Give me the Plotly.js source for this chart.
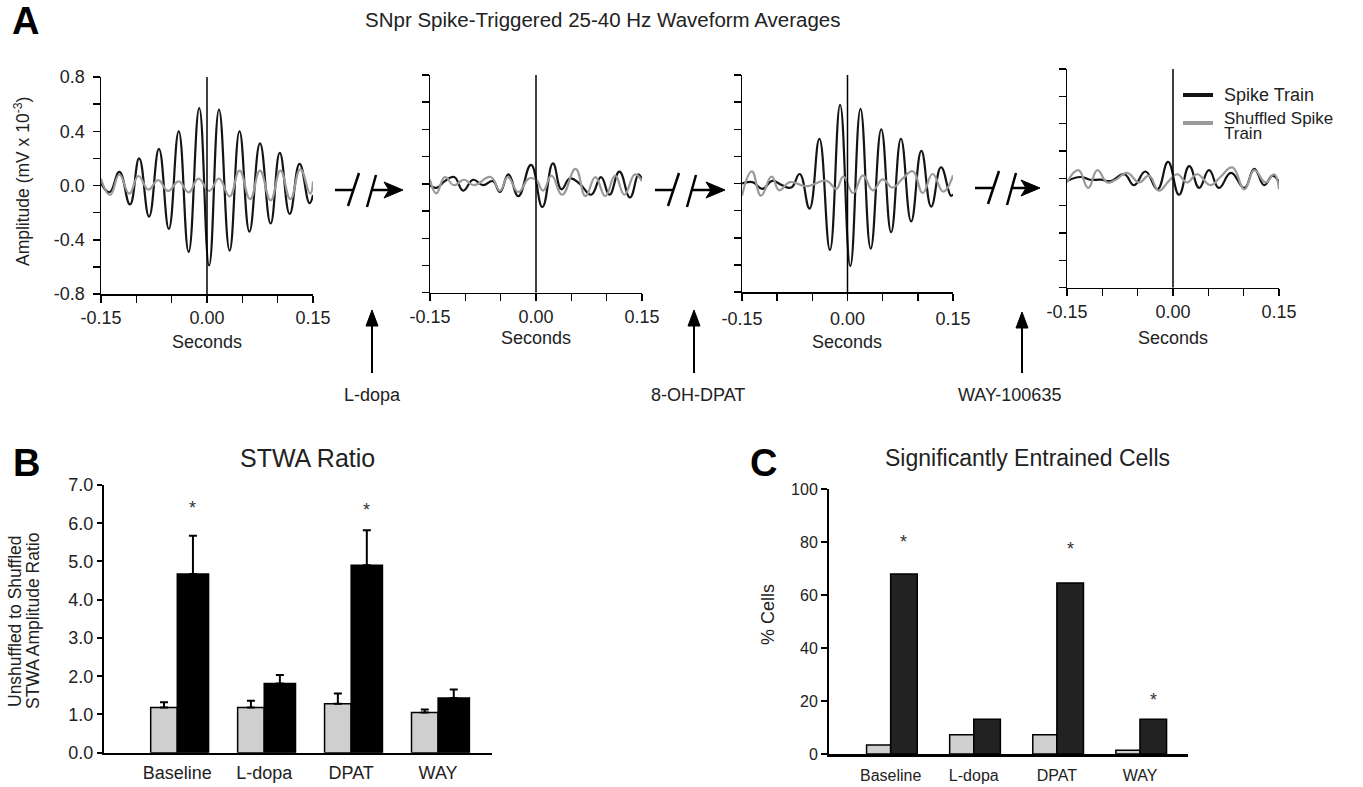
<!DOCTYPE html>
<html>
<head>
<meta charset="utf-8">
<script src="https://cdn.plot.ly/plotly-3.0.1.min.js"></script>
<style>html,body{margin:0;padding:0;background:#fff;}#chart{width:1363px;height:787px;}</style>
</head>
<body>
<div id="chart"></div>
<script>
// ---------- Panel A data: spike-triggered waveform averages (extrema) ----------
const baselineSpikeT = [-0.150,-0.138,-0.124,-0.109,-0.096,-0.082,-0.068,-0.054,-0.040,-0.026,-0.011,0.003,0.017,0.032,0.046,0.060,0.075,0.090,0.103,0.117,0.131,0.145,0.150];
const baselineSpikeV = [0.02,-0.05,0.10,-0.14,0.20,-0.23,0.27,-0.32,0.40,-0.49,0.57,-0.59,0.56,-0.48,0.40,-0.34,0.31,-0.28,0.24,-0.21,0.16,-0.13,-0.07];
const baselineShufT = [-0.150,-0.137,-0.124,-0.110,-0.097,-0.083,-0.069,-0.055,-0.040,-0.026,-0.012,0.003,0.017,0.032,0.046,0.061,0.075,0.090,0.104,0.118,0.132,0.146,0.150];
const baselineShufV = [0.05,-0.07,0.08,-0.06,0.07,-0.03,0.04,-0.04,0.03,-0.05,0.05,-0.04,0.05,-0.08,0.11,-0.10,0.11,-0.11,0.11,-0.10,0.12,-0.06,0.03];

const ldopaSpikeT = [-0.150,-0.141,-0.129,-0.116,-0.103,-0.089,-0.075,-0.061,-0.051,-0.039,-0.025,-0.007,0.009,0.024,0.036,0.048,0.062,0.078,0.092,0.104,0.118,0.133,0.145,0.150];
const ldopaSpikeV = [-0.01,-0.03,0.02,0.05,-0.05,0.03,-0.01,0.02,-0.06,0.07,-0.09,0.14,-0.17,0.15,-0.04,0.04,0.00,-0.08,0.05,-0.08,0.09,-0.10,0.07,0.03];
const ldopaShufT = [-0.150,-0.141,-0.129,-0.116,-0.102,-0.088,-0.064,-0.051,-0.040,-0.025,-0.010,0.000,0.010,0.022,0.037,0.056,0.070,0.084,0.098,0.112,0.125,0.140,0.150];
const ldopaShufV = [0.03,-0.07,0.05,-0.01,0.03,-0.01,0.05,-0.05,0.05,-0.06,0.04,0.03,-0.05,0.06,-0.08,0.11,-0.09,0.05,-0.09,0.06,-0.08,0.07,0.02];

const dpatSpikeT = [-0.150,-0.135,-0.121,-0.107,-0.094,-0.080,-0.068,-0.054,-0.040,-0.025,-0.0105,0.004,0.0185,0.033,0.048,0.062,0.076,0.0905,0.105,0.119,0.133,0.147,0.150];
const dpatSpikeV = [0.00,0.01,-0.04,0.02,-0.01,-0.03,0.07,-0.185,0.33,-0.49,0.58,-0.61,0.55,-0.48,0.40,-0.36,0.33,-0.28,0.24,-0.17,0.12,-0.09,-0.08];
const dpatShufT = [-0.150,-0.136,-0.123,-0.108,-0.097,-0.082,-0.059,-0.030,-0.016,-0.006,0.008,0.022,0.036,0.050,0.064,0.079,0.093,0.107,0.121,0.136,0.150];
const dpatShufV = [-0.09,0.09,-0.09,0.05,-0.05,0.01,-0.02,0.02,-0.04,0.05,-0.07,0.06,-0.05,0.03,-0.03,0.04,0.09,-0.07,0.07,-0.06,0.06];

const waySpikeT = [-0.150,-0.131,-0.117,-0.102,-0.088,-0.069,-0.055,-0.039,-0.022,-0.007,0.0085,0.023,0.037,0.051,0.065,0.082,0.101,0.115,0.129,0.141,0.150];
const waySpikeV = [-0.02,0.01,-0.01,-0.01,-0.02,0.03,-0.05,0.05,-0.08,0.12,-0.12,0.09,-0.07,0.06,-0.07,0.04,-0.07,0.07,-0.05,0.02,-0.03];
const wayShufT = [-0.150,-0.134,-0.120,-0.107,-0.093,-0.081,-0.065,-0.048,-0.034,-0.020,-0.006,0.006,0.020,0.034,0.053,0.067,0.084,0.101,0.115,0.131,0.143,0.150];
const wayShufV = [-0.03,0.06,-0.07,0.06,-0.03,-0.01,0.04,-0.03,0.02,-0.09,-0.02,0.03,-0.03,0.03,-0.05,0.01,0.08,-0.08,0.06,-0.03,0.03,-0.08];

const secTickVals = [-0.15,-0.10,-0.05,0,0.05,0.10,0.15];
const secTickText = ['-0.15','','','0.00','','','0.15'];
const ampTickVals = [-0.8,-0.6,-0.4,-0.2,0,0.2,0.4,0.6,0.8];
const ampTickText = ['-0.8','','-0.4','','0.0','','0.4','','0.8'];
const drugLabels = ['L-dopa','8-OH-DPAT','WAY-100635'];
const legendLabels = ['Spike Train', 'Shuffled Spike', 'Train'];

// ---------- Panel B data: STWA ratio ----------
const conditions = ['Baseline','L-dopa','DPAT','WAY'];
const stwaShuffled = [1.18, 1.18, 1.28, 1.05];
const stwaShuffledErr = [0.14, 0.18, 0.27, 0.08];
const stwaSpike = [4.67, 1.81, 4.90, 1.43];
const stwaSpikeErr = [1.00, 0.22, 0.92, 0.22];
const stwaTickVals = [0,1,2,3,4,5,6,7];
const stwaTickText = ['0.0','1.0','2.0','3.0','4.0','5.0','6.0','7.0'];
const stwaStars = [[0, 6.40], [2, 6.34]];

// ---------- Panel C data: % significantly entrained cells ----------
const cellsShuffled = [3.4, 7.3, 7.3, 1.4];
const cellsSpike = [68.0, 13.1, 64.6, 13.1];
const cellsTickVals = [0,20,40,60,80,100];
const cellsStars = [[0, 80.0], [2, 77.3], [3, 20.5]];

// ---------- helpers ----------
const W = 1363, H = 787;
const X = p => p / W;
const Y = p => 1 - p / H;
const FONT = 'Liberation Sans, Arial, Helvetica, sans-serif';
const TXT = '#222';
const BLACK = '#141414', GRAY = '#9a9a9a';

const data = [];
const panels = [
  {t1: baselineSpikeT, v1: baselineSpikeV, t2: baselineShufT, v2: baselineShufV, px: [101,313], py: [77,294]},
  {t1: ldopaSpikeT, v1: ldopaSpikeV, t2: ldopaShufT, v2: ldopaShufV, px: [430,642], py: [75,292.7]},
  {t1: dpatSpikeT, v1: dpatSpikeV, t2: dpatShufT, v2: dpatShufV, px: [742,953], py: [75,292]},
  {t1: waySpikeT, v1: waySpikeV, t2: wayShufT, v2: wayShufV, px: [1067,1279], py: [69,287.7]}
];

const layout = {
  width: W, height: H,
  margin: {l:0, r:0, t:0, b:0},
  paper_bgcolor: '#fff', plot_bgcolor: '#fff',
  showlegend: false,
  font: {family: FONT, color: TXT, size: 15},
  shapes: [], annotations: []
};

panels.forEach((p, i) => {
  const n = i + 1;
  const xa = 'x' + (n === 1 ? '' : n), ya = 'y' + (n === 1 ? '' : n);
  data.push({type:'scatter', mode:'lines', x:p.t1, y:p.v1, xaxis:xa, yaxis:ya,
    line:{color:BLACK, width:2.2, shape:'spline', smoothing:1.3}, hoverinfo:'skip'});
  data.push({type:'scatter', mode:'lines', x:p.t2, y:p.v2, xaxis:xa, yaxis:ya,
    line:{color:GRAY, width:2.2, shape:'spline', smoothing:1.3}, hoverinfo:'skip'});
  layout['xaxis' + (n === 1 ? '' : n)] = {
    domain:[X(p.px[0]), X(p.px[1])], range:[-0.15,0.15], anchor: ya,
    tickvals: secTickVals, ticktext: secTickText, ticks:'outside', ticklen:7, tickwidth:1.5, tickcolor:'#000',
    showline:true, linecolor:'#000', linewidth:1.5, showgrid:false, zeroline:false,
    tickfont:{size:18, color:TXT}, fixedrange:true,
    ticklabelstandoff: (n === 3 ? 3 : 0)
  };
  layout['yaxis' + (n === 1 ? '' : n)] = {
    domain:[Y(p.py[1]), Y(p.py[0])], range:[-0.8,0.8], anchor: xa,
    tickvals: ampTickVals, ticktext: (n === 1 ? ampTickText : ampTickVals.map(() => '')),
    ticks:'outside', ticklen:7, tickwidth:1.5, tickcolor:'#000',
    showline:true, linecolor:'#000', linewidth:1.5, showgrid:false, zeroline:false,
    tickfont:{size:18, color:TXT}, fixedrange:true, ticklabelstandoff: 4
  };
  layout.shapes.push({type:'line', xref:xa, yref:ya, x0:0, x1:0, y0:-0.8, y1:0.8, line:{color:'#000', width:1.5}, layer:'above'});
  layout.annotations.push({xref:'paper', yref:'paper', x:X((p.px[0]+p.px[1])/2), y:Y(n % 2 === 1 ? 342 : 338),
    text:'Seconds', showarrow:false, font:{size:18, color:TXT}, xanchor:'center', yanchor:'middle'});
});

// Panel B bars
data.push({type:'bar', x:[0,1,2,3], y:stwaShuffled, xaxis:'x5', yaxis:'y5', offset:-0.306, width:0.306,
  marker:{color:'#cfcfcf', line:{color:'#000', width:1.5}},
  error_y:{type:'data', symmetric:false, array:stwaShuffledErr, arrayminus:[0,0,0,0], color:'#000', thickness:2, width:4},
  hoverinfo:'skip'});
data.push({type:'bar', x:[0,1,2,3], y:stwaSpike, xaxis:'x5', yaxis:'y5', offset:0, width:0.36,
  marker:{color:'#000', line:{color:'#000', width:1.5}},
  error_y:{type:'data', symmetric:false, array:stwaSpikeErr, arrayminus:[0,0,0,0], color:'#000', thickness:2, width:4},
  hoverinfo:'skip'});
layout.xaxis5 = {domain:[X(104), X(492)], range:[-0.843, 3.62], anchor:'y5',
  tickvals:[0,1,2,3], ticktext:conditions, ticks:'', showline:true, linecolor:'#000', linewidth:2.5,
  showgrid:false, zeroline:false, tickfont:{size:18, color:TXT}, fixedrange:true, ticklabelstandoff: 2};
layout.yaxis5 = {domain:[Y(752.7), Y(485)], range:[0,7], anchor:'x5',
  tickvals:stwaTickVals, ticktext:stwaTickText, ticks:'outside', ticklen:5, tickwidth:2, tickcolor:'#000',
  showline:true, linecolor:'#000', linewidth:2, showgrid:false, zeroline:false,
  tickfont:{size:18, color:TXT}, fixedrange:true};
stwaStars.forEach(s => layout.annotations.push({xref:'x5', yref:'y5', x:s[0]+0.18, y:s[1], text:'*', showarrow:false,
  font:{size:18, color:'#333'}, xanchor:'center', yanchor:'middle'}));

// Panel C bars
data.push({type:'bar', x:[0,1,2,3], y:cellsShuffled, xaxis:'x6', yaxis:'y6', offset:-0.29, width:0.29,
  marker:{color:'#cfcfcf', line:{color:'#000', width:1.5}}, hoverinfo:'skip'});
data.push({type:'bar', x:[0,1,2,3], y:cellsSpike, xaxis:'x6', yaxis:'y6', offset:0, width:0.32,
  marker:{color:'#222', line:{color:'#000', width:1.5}}, hoverinfo:'skip'});
layout.xaxis6 = {domain:[X(829), X(1188)], range:[-0.742, 3.578], anchor:'y6',
  tickvals:[0,1,2,3], ticktext:conditions, ticks:'', showline:true, linecolor:'#000', linewidth:2.5,
  showgrid:false, zeroline:false, tickfont:{size:16, color:TXT}, fixedrange:true, ticklabelstandoff: 5};
layout.yaxis6 = {domain:[Y(754), Y(489.3)], range:[0,100], anchor:'x6',
  tickvals:cellsTickVals, ticks:'outside', ticklen:6, tickwidth:2, tickcolor:'#000',
  showline:true, linecolor:'#000', linewidth:2, showgrid:false, zeroline:false,
  tickfont:{size:16, color:TXT}, fixedrange:true};
cellsStars.forEach(s => layout.annotations.push({xref:'x6', yref:'y6', x:s[0]+0.16, y:s[1], text:'*', showarrow:false,
  font:{size:18, color:'#333'}, xanchor:'center', yanchor:'middle'}));

// Texts
const A = (x, y, text, size, opts) => layout.annotations.push(Object.assign({xref:'paper', yref:'paper', x:X(x), y:Y(y),
  text:text, showarrow:false, xanchor:'center', yanchor:'middle', font:{size:size, color:TXT}}, opts || {}));
A(25, 21, '<b>A</b>', 38, {font:{size:38, color:'#000'}});
A(26, 463, '<b>B</b>', 38, {font:{size:38, color:'#000'}});
A(763, 463, '<b>C</b>', 38, {font:{size:38, color:'#000'}});
A(603, 20, 'SNpr Spike-Triggered 25-40 Hz Waveform Averages', 20.5);
A(307, 458, 'STWA Ratio', 25);
A(1027, 458, 'Significantly Entrained Cells', 23);
A(22, 182, 'Amplitude (mV x 10<sup>-3</sup>)', 17.5, {textangle:-90});
A(15, 621, 'Unshuffled to Shuffled', 17.5, {textangle:-90});
A(33, 621, 'STWA Amplitude Ratio', 17.5, {textangle:-90});
A(768, 615, '% Cells', 18, {textangle:-90});
A(372, 395, drugLabels[0], 18);
A(698, 395, drugLabels[1], 18);
A(1009, 395, drugLabels[2], 18);
// legend text
A(1222, 95, legendLabels[0], 18, {xanchor:'left'});
A(1222, 118, legendLabels[1], 17, {xanchor:'left'});
A(1222, 133, legendLabels[2], 17, {xanchor:'left'});

// Shapes: legend samples, arrows
const seg = (x0, y0, x1, y1, w, c) => layout.shapes.push({type:'line', xref:'paper', yref:'paper',
  x0:X(x0), y0:Y(y0), x1:X(x1), y1:Y(y1), line:{color:c || '#000', width:w}});
const tri = (pts) => layout.shapes.push({type:'path', xref:'paper', yref:'paper',
  path:'M' + pts.map(p => X(p[0]) + ',' + Y(p[1])).join(' L') + ' Z', fillcolor:'#000', line:{color:'#000', width:1}});
seg(1183, 95, 1213, 95, 4, BLACK);
seg(1183, 123, 1213, 123, 4, GRAY);

function breakArrow(x0, y, xEnd) {
  seg(x0, y, x0 + 19, y, 2.5);
  seg(x0 + 13, y + 16, x0 + 24, y - 17, 2.5);
  seg(x0 + 32, y + 17, x0 + 41, y - 15, 2.5);
  seg(x0 + 37, y, xEnd - 10, y, 2.5);
  tri([[xEnd, y], [xEnd - 19, y - 8], [xEnd - 14, y], [xEnd - 19, y + 8]]);
}
breakArrow(335, 190, 403);
breakArrow(655, 190, 725);
breakArrow(975, 188, 1040);

function upArrow(x, yTip, yBottom) {
  seg(x, yBottom, x, yTip + 10, 2);
  tri([[x, yTip], [x - 6, yTip + 16], [x + 6, yTip + 16]]);
}
upArrow(372, 310, 373);
upArrow(694, 310, 373);
upArrow(1022, 312, 373);

Plotly.newPlot('chart', data, layout, {staticPlot:true, displayModeBar:false});
</script>
</body>
</html>
